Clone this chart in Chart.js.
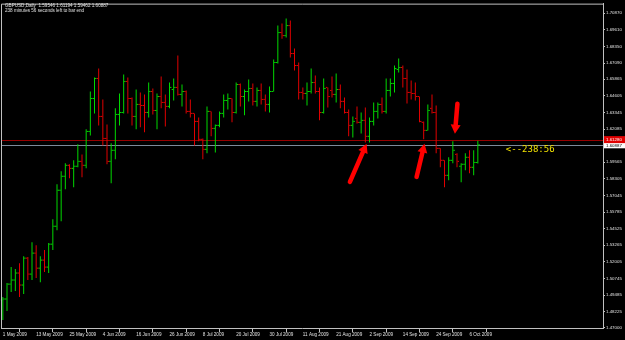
<!DOCTYPE html>
<html>
<head>
<meta charset="utf-8">
<title>GBPUSD Daily</title>
<script src="https://cdn.jsdelivr.net/npm/chart.js@4.4.1/dist/chart.umd.min.js"></script>
<style>
  html, body { margin: 0; padding: 0; background: #000; }
  #wrap { width: 625px; height: 340px; }
</style>
</head>
<body>
<div id="wrap"><canvas id="canvas" width="625" height="340"></canvas></div>
<script>
// header texts
var symbol = 'GBPUSD,Daily';
var timeLeft = '238 minutes 56 seconds left to bar end';
var countdown = '<--238:56';

// daily bars, 1 May 2009 .. 8 Oct 2009 (weekdays)
var opens = [1.4911,1.4919,1.5032,1.5063,1.5116,1.5025,1.5229,1.5108,1.5267,1.5153,
  1.5214,1.5161,1.5335,1.5471,1.5744,1.5850,1.5933,1.5910,1.5926,1.5963,
  1.5933,1.6190,1.6440,1.6592,1.6304,1.6137,1.5963,1.6047,1.6319,1.6334,
  1.6569,1.6440,1.6304,1.6395,1.6387,1.6334,1.6493,1.6349,1.6455,1.6410,
  1.6380,1.6508,1.6524,1.6471,1.6493,1.6342,1.6327,1.6266,1.6130,1.6054,
  1.6342,1.6213,1.6236,1.6327,1.6425,1.6440,1.6334,1.6546,1.6455,1.6493,
  1.6516,1.6418,1.6501,1.6433,1.6395,1.6493,1.6713,1.6940,1.6917,1.6993,
  1.6781,1.6690,1.6486,1.6478,1.6493,1.6561,1.6493,1.6334,1.6524,1.6501,
  1.6471,1.6508,1.6418,1.6334,1.6236,1.6289,1.6259,1.6274,1.6153,1.6266,
  1.6342,1.6395,1.6342,1.6501,1.6554,1.6660,1.6675,1.6592,1.6486,1.6478,
  1.6455,1.6259,1.6198,1.6365,1.6334,1.6062,1.5971,1.5857,1.5971,1.6016,
  1.5926,1.5941,1.5994,1.5918,1.59546];
var highs = [1.4934,1.5040,1.5161,1.5146,1.5191,1.5244,1.5237,1.5350,1.5327,1.5244,
  1.5290,1.5343,1.5524,1.5789,1.5888,1.5948,1.5941,1.5971,1.6092,1.6016,
  1.6206,1.6493,1.6599,1.6667,1.6433,1.6243,1.6100,1.6365,1.6478,1.6622,
  1.6599,1.6448,1.6508,1.6486,1.6471,1.6561,1.6516,1.6478,1.6607,1.6471,
  1.6561,1.6592,1.6766,1.6546,1.6501,1.6433,1.6327,1.6296,1.6137,1.6380,
  1.6342,1.6243,1.6342,1.6471,1.6478,1.6440,1.6561,1.6554,1.6508,1.6584,
  1.6554,1.6524,1.6554,1.6471,1.6531,1.6736,1.6993,1.7008,1.7046,1.7031,
  1.6819,1.6713,1.6524,1.6561,1.6667,1.6614,1.6524,1.6592,1.6524,1.6607,
  1.6629,1.6546,1.6448,1.6357,1.6304,1.6380,1.6334,1.6372,1.6296,1.6410,
  1.6410,1.6448,1.6592,1.6592,1.6690,1.6743,1.6690,1.6660,1.6576,1.6561,
  1.6455,1.6266,1.6395,1.6471,1.6387,1.6062,1.5971,1.5994,1.6115,1.6024,
  1.5948,1.6024,1.6047,1.6047,1.61194];
var lows = [1.4760,1.4828,1.4972,1.4979,1.4934,1.4957,1.5063,1.5063,1.5078,1.5047,
  1.5123,1.5116,1.5290,1.5441,1.5509,1.5751,1.5835,1.5767,1.5918,1.5842,
  1.5910,1.6160,1.6327,1.6236,1.6084,1.5941,1.5797,1.5979,1.6236,1.6327,
  1.6327,1.6236,1.6206,1.6221,1.6183,1.6296,1.6319,1.6206,1.6365,1.6228,
  1.6365,1.6425,1.6463,1.6380,1.6327,1.6296,1.6084,1.6115,1.5979,1.6024,
  1.6153,1.6031,1.6221,1.6296,1.6357,1.6259,1.6327,1.6380,1.6312,1.6418,
  1.6387,1.6380,1.6395,1.6342,1.6334,1.6493,1.6705,1.6894,1.6902,1.6751,
  1.6652,1.6433,1.6433,1.6387,1.6478,1.6478,1.6274,1.6327,1.6372,1.6448,
  1.6410,1.6365,1.6327,1.6153,1.6145,1.6251,1.6175,1.6107,1.6107,1.6236,
  1.6289,1.6327,1.6327,1.6455,1.6486,1.6637,1.6524,1.6402,1.6433,1.6425,
  1.6259,1.6130,1.6198,1.6327,1.6024,1.5918,1.5767,1.5820,1.5948,1.5918,
  1.5804,1.5895,1.5872,1.5857,1.59462];
var closes = [1.4919,1.5032,1.5063,1.5116,1.5025,1.5229,1.5108,1.5267,1.5153,1.5214,
  1.5161,1.5335,1.5471,1.5744,1.5850,1.5933,1.5910,1.5926,1.5963,1.5933,
  1.6190,1.6440,1.6592,1.6304,1.6137,1.5963,1.6047,1.6319,1.6334,1.6569,
  1.6440,1.6304,1.6395,1.6387,1.6334,1.6493,1.6349,1.6455,1.6410,1.6380,
  1.6524,1.6524,1.6471,1.6493,1.6342,1.6327,1.6266,1.6130,1.6054,1.6342,
  1.6213,1.6236,1.6327,1.6425,1.6440,1.6334,1.6546,1.6455,1.6493,1.6516,
  1.6418,1.6501,1.6433,1.6395,1.6493,1.6713,1.6940,1.6917,1.6993,1.6781,
  1.6690,1.6486,1.6478,1.6493,1.6561,1.6493,1.6334,1.6516,1.6455,1.6471,
  1.6508,1.6418,1.6334,1.6236,1.6266,1.6259,1.6274,1.6153,1.6266,1.6342,
  1.6395,1.6342,1.6501,1.6554,1.6667,1.6675,1.6592,1.6486,1.6478,1.6455,
  1.6266,1.6198,1.6349,1.6334,1.6062,1.5971,1.5857,1.5971,1.6047,1.5963,
  1.5941,1.5994,1.5918,1.5955,1.60887];

// axis labels (every 8th bar on the time axis)
var xTickLabels = ['1 May 2009','13 May 2009','25 May 2009','4 Jun 2009','16 Jun 2009','26 Jun 2009',
  '8 Jul 2009','20 Jul 2009','30 Jul 2009','11 Aug 2009','21 Aug 2009','2 Sep 2009',
  '14 Sep 2009','24 Sep 2009','6 Oct 2009'];
var priceTicks = [1.70870,1.69610,1.68350,1.67090,1.65865,1.64605,1.63345,1.62085,1.59565,
  1.58305,1.57045,1.55785,1.54525,1.53265,1.52005,1.50745,1.49485,1.48225,1.47000];

var bidPrice = 1.60887;
var levelPrice = 1.61280;

// hand drawn arrows: [fromBar, fromPrice, toBar, toPrice]
var arrows = [[83.3, 1.5807, 87.3, 1.6097], [99.3, 1.5845, 101.2, 1.6097], [109.1, 1.6400, 108.5, 1.6173]];

var bull = '#00d800';
var bear = '#e00000';
var frameColor = '#c0c0c0';
var smallFont = '4.6px "Liberation Sans", Arial, sans-serif';

var ranges = [];
var colors = [];
for (var i = 0; i < opens.length; i++) {
    ranges.push({x: i, y: [lows[i], highs[i]]});
    colors.push(closes[i] >= opens[i] ? bull : bear);
}

var mtPlugin = {
    id: 'mt4',
    beforeDraw: function(chart){
        var c = chart.ctx;
        c.save();
        c.fillStyle = '#000';
        c.fillRect(0, 0, chart.width, chart.height);
        c.restore();
    },
    beforeDatasetsDraw: function(chart){
        var c = chart.ctx, a = chart.chartArea, y = chart.scales.y;
        c.save();
        c.lineWidth = 1;
        c.strokeStyle = '#960000';
        var yl = Math.round(y.getPixelForValue(levelPrice)) + 0.5;
        c.beginPath(); c.moveTo(a.left, yl); c.lineTo(a.right, yl); c.stroke();
        c.strokeStyle = '#7d8a9a';
        var yb = Math.round(y.getPixelForValue(bidPrice)) + 0.5;
        c.beginPath(); c.moveTo(a.left, yb); c.lineTo(a.right, yb); c.stroke();
        c.restore();
    },
    afterDatasetsDraw: function(chart){
        var c = chart.ctx, a = chart.chartArea, x = chart.scales.x, y = chart.scales.y;
        c.save();
        // open / close ticks
        for (var i = 0; i < opens.length; i++) {
            var px = x.getPixelForValue(i);
            c.fillStyle = colors[i];
            c.fillRect(px - 2, y.getPixelForValue(opens[i]) - 0.5, 1.5, 1);
            c.fillRect(px + 0.5, y.getPixelForValue(closes[i]) - 0.5, 1.5, 1);
        }
        // frame top / left
        c.strokeStyle = frameColor;
        c.lineWidth = 1;
        c.beginPath();
        c.moveTo(a.left + 0.5, a.bottom);
        c.lineTo(a.left + 0.5, a.top + 0.5);
        c.lineTo(a.right, a.top + 0.5);
        c.stroke();
        // arrows
        c.strokeStyle = '#ff0000';
        c.fillStyle = '#ff0000';
        c.lineCap = 'round';
        arrows.forEach(function(ar){
            var x0 = x.getPixelForValue(ar[0]), y0 = y.getPixelForValue(ar[1]);
            var x1 = x.getPixelForValue(ar[2]), y1 = y.getPixelForValue(ar[3]);
            var ang = Math.atan2(y1 - y0, x1 - x0);
            var hl = 9, hw = 5;
            var bx = x1 - hl * Math.cos(ang), by = y1 - hl * Math.sin(ang);
            c.lineWidth = 4.5;
            c.beginPath(); c.moveTo(x0, y0); c.lineTo(bx, by); c.stroke();
            c.beginPath();
            c.moveTo(x1, y1);
            c.lineTo(bx + hw * Math.sin(ang), by - hw * Math.cos(ang));
            c.lineTo(bx - hw * Math.sin(ang), by + hw * Math.cos(ang));
            c.closePath(); c.fill();
        });
        // countdown text beside the last bar
        c.fillStyle = '#f2e200';
        c.font = '9px "DejaVu Sans Mono", monospace';
        c.textBaseline = 'middle';
        c.fillText(countdown, x.getPixelForValue(opens.length - 1) + 28, y.getPixelForValue(bidPrice) + 5);
        // header
        c.fillStyle = '#e0e0e0';
        c.font = smallFont;
        c.textBaseline = 'middle';
        c.fillText(symbol + '  ' + opens[opens.length - 1].toFixed(5) + ' ' + highs[highs.length - 1].toFixed(5) + ' ' +
            lows[lows.length - 1].toFixed(5) + ' ' + closes[closes.length - 1].toFixed(5), 5, 5.5);
        c.fillText(timeLeft, 5, 11);
        c.restore();
    },
    afterDraw: function(chart){
        var c = chart.ctx, a = chart.chartArea, y = chart.scales.y;
        c.save();
        c.font = '4.4px "Liberation Sans", Arial, sans-serif';
        c.textBaseline = 'middle';
        var yb = y.getPixelForValue(bidPrice);
        c.fillStyle = '#ffffff';
        c.fillRect(a.right + 1, yb - 3.5, chart.width - a.right - 1, 7);
        c.fillStyle = '#000';
        c.fillText(bidPrice.toFixed(5), a.right + 3, yb + 0.5);
        var yl = y.getPixelForValue(levelPrice);
        c.fillStyle = '#e00000';
        c.fillRect(a.right + 1, yl - 3.5, chart.width - a.right - 1, 7);
        c.fillStyle = '#ffffff';
        c.fillText(levelPrice.toFixed(5), a.right + 3, yl);
        c.restore();
    }
};

var ctx = document.getElementById('canvas');
var chart = new Chart(ctx, {
    type: 'bar',
    data: {
        datasets: [{
            label: 'GBPUSD',
            data: ranges,
            backgroundColor: colors,
            borderWidth: 0,
            barThickness: 1,
            inflateAmount: 0,
            grouped: false
        }]
    },
    options: {
        responsive: false,
        animation: false,
        devicePixelRatio: 1,
        layout: { padding: { left: 1, top: 2, right: 0, bottom: 0 } },
        plugins: { legend: { display: false }, tooltip: { enabled: false } },
        scales: {
            x: {
                type: 'linear',
                min: -0.44,
                max: 144.04,
                offset: false,
                afterFit: function(s){ s.height = 12; },
                afterBuildTicks: function(s){
                    s.ticks = xTickLabels.map(function(t, k){ return {value: k * 8}; });
                },
                grid: { drawOnChartArea: false, color: frameColor, tickLength: 4, tickWidth: 1 },
                border: { color: frameColor },
                ticks: {
                    autoSkip: false, maxRotation: 0, align: 'start', padding: 0,
                    color: '#e0e0e0', font: { family: 'Liberation Sans', size: 4.6 },
                    callback: function(v){ return xTickLabels[Math.round(v / 8)]; }
                }
            },
            y: {
                position: 'right',
                min: 1.46991,
                max: 1.71594,
                afterFit: function(s){ s.width = 22; },
                afterBuildTicks: function(s){
                    s.ticks = priceTicks.map(function(v){ return {value: v}; });
                },
                grid: { drawOnChartArea: false, color: frameColor, tickLength: 2 },
                border: { color: frameColor },
                ticks: {
                    autoSkip: false, padding: 1,
                    color: '#e0e0e0', font: { family: 'Liberation Sans', size: 4.4 },
                    callback: function(v){ return v.toFixed(5); }
                }
            }
        }
    },
    plugins: [mtPlugin]
});
</script>
</body>
</html>
